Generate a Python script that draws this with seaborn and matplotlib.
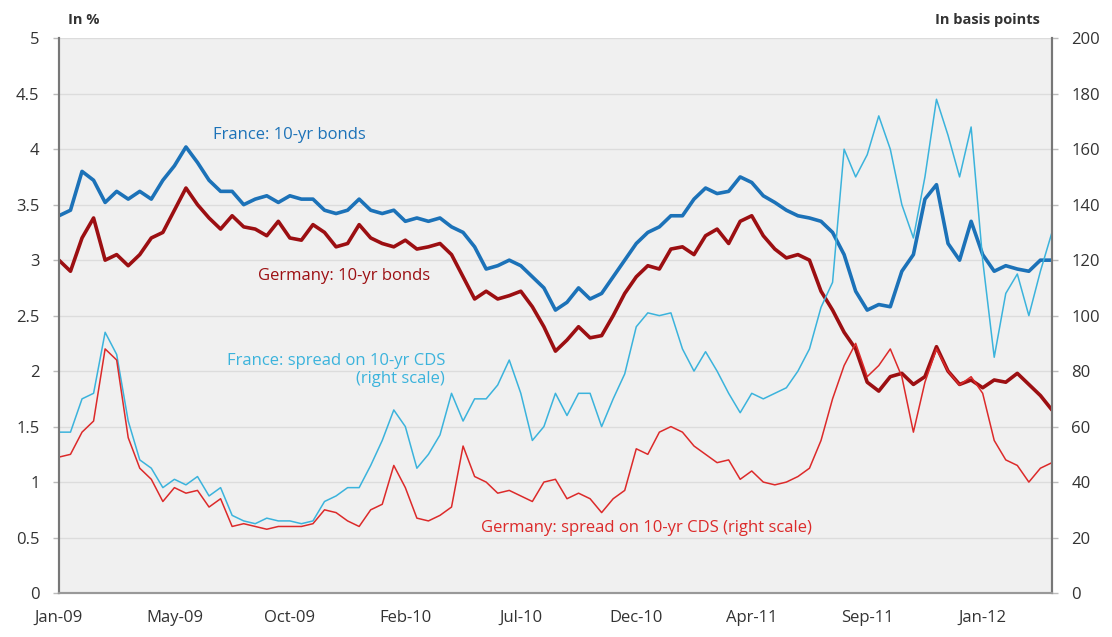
import pandas as pd
import numpy as np
import matplotlib.pyplot as plt
import seaborn as sns

# Business-day calendar, one reading every 10 business days
all_days = pd.bdate_range('2009-01-01', periods=861)
sample_days = all_days[::10]

# 10-yr government bond yields (in %)
france_bonds = [3.40, 3.45, 3.80, 3.72, 3.52, 3.62, 3.55, 3.62, 3.55, 3.72,
                3.85, 4.02, 3.88, 3.72, 3.62, 3.62, 3.50, 3.55, 3.58, 3.52,
                3.58, 3.55, 3.55, 3.45, 3.42, 3.45, 3.55, 3.45, 3.42, 3.45,
                3.35, 3.38, 3.35, 3.38, 3.30, 3.25, 3.12, 2.92, 2.95, 3.00,
                2.95, 2.85, 2.75, 2.55, 2.62, 2.75, 2.65, 2.70, 2.85, 3.00,
                3.15, 3.25, 3.30, 3.40, 3.40, 3.55, 3.65, 3.60, 3.62, 3.75,
                3.70, 3.58, 3.52, 3.45, 3.40, 3.38, 3.35, 3.25, 3.05, 2.72,
                2.55, 2.60, 2.58, 2.90, 3.05, 3.55, 3.68, 3.15, 3.00, 3.35,
                3.05, 2.90, 2.95, 2.92, 2.90, 3.00, 3.00]
germany_bonds = [3.00, 2.90, 3.20, 3.38, 3.00, 3.05, 2.95, 3.05, 3.20, 3.25,
                 3.45, 3.65, 3.50, 3.38, 3.28, 3.40, 3.30, 3.28, 3.22, 3.35,
                 3.20, 3.18, 3.32, 3.25, 3.12, 3.15, 3.32, 3.20, 3.15, 3.12,
                 3.18, 3.10, 3.12, 3.15, 3.05, 2.85, 2.65, 2.72, 2.65, 2.68,
                 2.72, 2.58, 2.40, 2.18, 2.28, 2.40, 2.30, 2.32, 2.50, 2.70,
                 2.85, 2.95, 2.92, 3.10, 3.12, 3.05, 3.22, 3.28, 3.15, 3.35,
                 3.40, 3.22, 3.10, 3.02, 3.05, 3.00, 2.72, 2.55, 2.35, 2.20,
                 1.90, 1.82, 1.95, 1.98, 1.88, 1.95, 2.22, 2.00, 1.88, 1.92,
                 1.85, 1.92, 1.90, 1.98, 1.88, 1.78, 1.65]

# 10-yr CDS spreads (in basis points, right scale)
france_cds = [58, 58, 70, 72, 94, 86, 62, 48, 45, 38,
              41, 39, 42, 35, 38, 28, 26, 25, 27, 26,
              26, 25, 26, 33, 35, 38, 38, 46, 55, 66,
              60, 45, 50, 57, 72, 62, 70, 70, 75, 84,
              72, 55, 60, 72, 64, 72, 72, 60, 70, 79,
              96, 101, 100, 101, 88, 80, 87, 80, 72, 65,
              72, 70, 72, 74, 80, 88, 103, 112, 160, 150,
              158, 172, 160, 140, 128, 150, 178, 165, 150, 168,
              120, 85, 108, 115, 100, 116, 130]
germany_cds = [49, 50, 58, 62, 88, 84, 56, 45, 41, 33,
               38, 36, 37, 31, 34, 24, 25, 24, 23, 24,
               24, 24, 25, 30, 29, 26, 24, 30, 32, 46,
               38, 27, 26, 28, 31, 53, 42, 40, 36, 37,
               35, 33, 40, 41, 34, 36, 34, 29, 34, 37,
               52, 50, 58, 60, 58, 53, 50, 47, 48, 41,
               44, 40, 39, 40, 42, 45, 55, 70, 82, 90,
               78, 82, 88, 78, 58, 76, 88, 80, 75, 78,
               72, 55, 48, 46, 40, 45, 47]

df = pd.DataFrame({
    'Date': sample_days,
    'France bonds': france_bonds,
    'Germany bonds': germany_bonds,
    'France CDS': france_cds,
    'Germany CDS': germany_cds,
})

sns.set_style('white', {'axes.facecolor': '#f0f0f0'})
plt.rcParams['font.family'] = ['Open Sans', 'DejaVu Sans']

fig = plt.figure(figsize=(11.12, 6.37), dpi=100)
ax = fig.add_axes([0.053, 0.069, 0.893, 0.871])
ax2 = ax.twinx()

# Thick lines: bond yields (left scale)
sns.lineplot(data=df, x='Date', y='France bonds', ax=ax, color='#1c72b8', linewidth=2.6)
sns.lineplot(data=df, x='Date', y='Germany bonds', ax=ax, color='#9c0f12', linewidth=2.6)

# Thin lines: CDS spreads (right scale)
sns.lineplot(data=df, x='Date', y='France CDS', ax=ax2, color='#3bb3dc', linewidth=1.1)
sns.lineplot(data=df, x='Date', y='Germany CDS', ax=ax2, color='#dc2a2a', linewidth=1.1)

ax.set_ylim(0, 5)
ax2.set_ylim(0, 200)
ax.set_xlim(all_days[0], all_days[860])

ax.set_yticks(np.arange(0, 5.01, 0.5))
ax.set_yticklabels(['0', '0.5', '1', '1.5', '2', '2.5', '3', '3.5', '4', '4.5', '5'])
ax2.set_yticks(np.arange(0, 201, 20))

tick_days = all_days[:851:50]
ax.set_xticks(tick_days)
ax.set_xticklabels([d.strftime('%b-%y') if i % 2 == 0 else '' for i, d in enumerate(tick_days)])

ax.grid(axis='y', color='#dcdcdc', linewidth=1)
ax.set_axisbelow(True)
ax.set_xlabel('')
ax.set_ylabel('')
ax2.set_ylabel('')

for a in (ax, ax2):
    a.spines['top'].set_visible(False)
    a.spines['left'].set_color('#777777')
    a.spines['right'].set_color('#777777')
    a.spines['bottom'].set_color('#999999')
    a.spines['left'].set_linewidth(1.5)
    a.spines['right'].set_linewidth(1.5)
    a.spines['bottom'].set_linewidth(1.5)
    a.tick_params(colors='#333333', labelsize=12, length=4, width=1)
ax.tick_params(axis='x', colors='#999999', labelcolor='#333333', pad=8)
ax.tick_params(axis='y', colors='#bbbbbb', labelcolor='#333333', pad=10)
ax2.tick_params(axis='y', colors='#bbbbbb', labelcolor='#333333', pad=10)

# Unit captions
ax.text(0.009, 1.032, 'In %', transform=ax.transAxes, fontsize=10.5,
        fontweight='bold', color='#333333', va='center', ha='left')
ax.text(0.988, 1.032, 'In basis points', transform=ax.transAxes, fontsize=10.5,
        fontweight='bold', color='#333333', va='center', ha='right')

# Series labels
ax.text(0.232, 0.825, 'France: 10-yr bonds', transform=ax.transAxes,
        color='#1c72b8', fontsize=12, ha='center', va='center')
ax.text(0.287, 0.571, 'Germany: 10-yr bonds', transform=ax.transAxes,
        color='#9c0f12', fontsize=12, ha='center', va='center')
ax.text(0.389, 0.402, 'France: spread on 10-yr CDS\n(right scale)', transform=ax.transAxes,
        color='#3bb3dc', fontsize=12, ha='right', va='center', multialignment='right')
ax.text(0.592, 0.117, 'Germany: spread on 10-yr CDS (right scale)', transform=ax.transAxes,
        color='#dc2a2a', fontsize=12, ha='center', va='center')

fig.savefig('out.png', dpi=100)
